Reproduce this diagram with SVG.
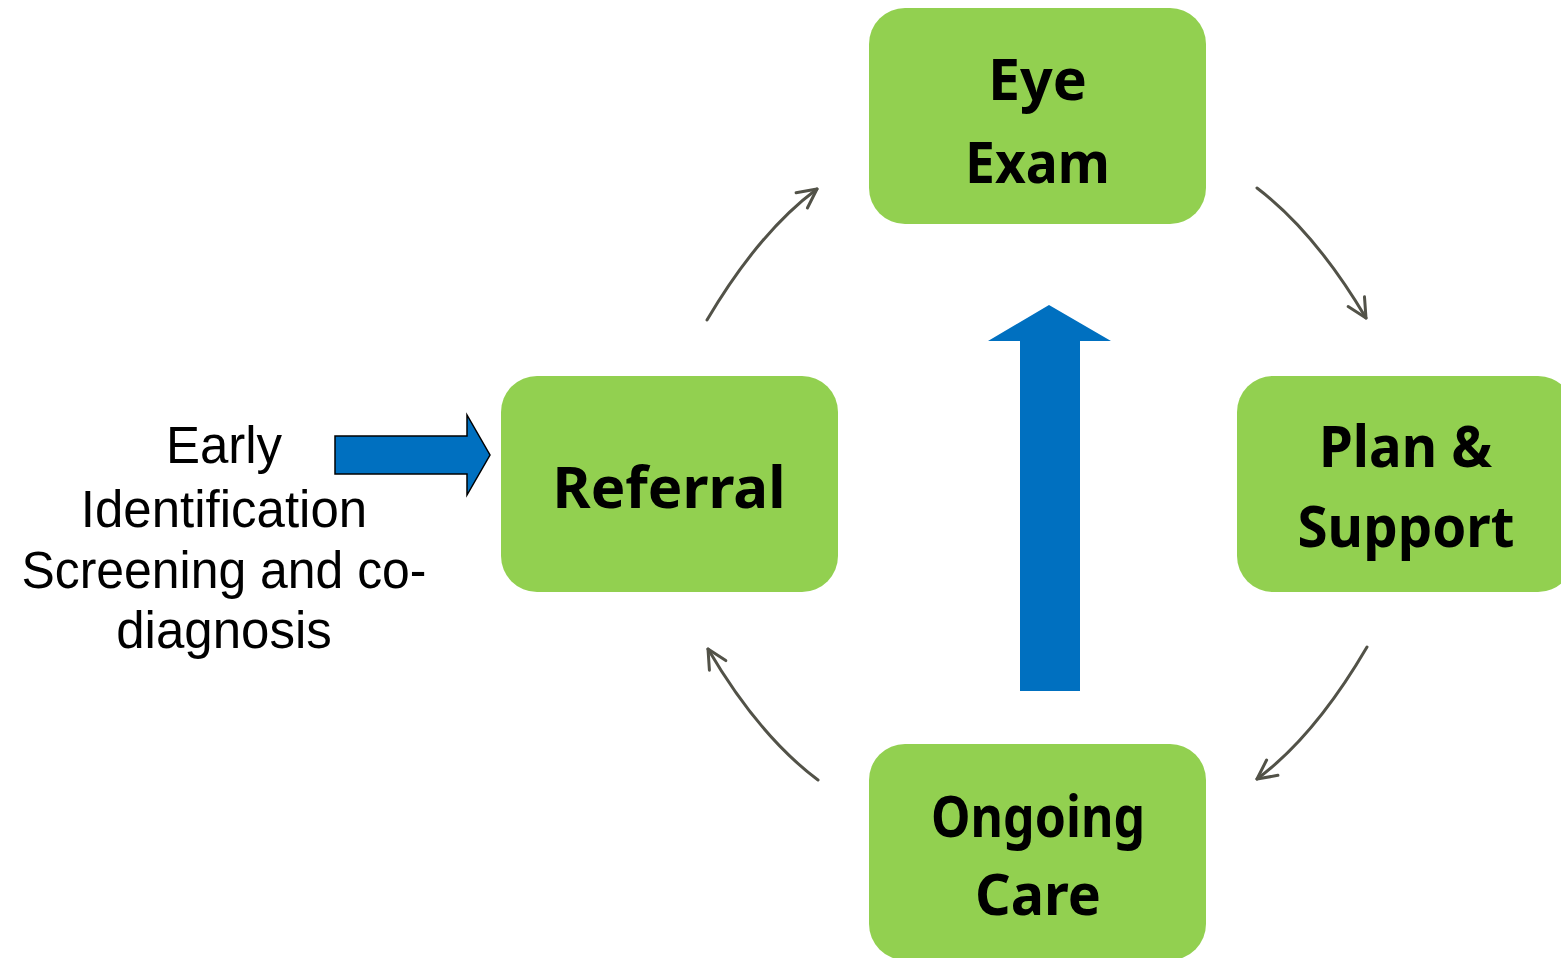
<svg xmlns="http://www.w3.org/2000/svg" width="1561" height="958" viewBox="0 0 1561 958">
  <style>
    .box { fill: #92D050; }
    .lbl { font-family: "Noto Sans", "DejaVu Sans", sans-serif; font-weight: bold; font-size: 57px; fill: #000; text-anchor: middle; }
    .side { font-family: "Liberation Sans", Arial, sans-serif; font-size: 51px; fill: #000; text-anchor: middle; }
    .conn { fill: none; stroke: #525248; stroke-width: 3; stroke-linecap: round; marker-end: url(#chev); }
    .blue { fill: #0070C0; }
  </style>
  <defs>
    <marker id="chev" viewBox="-25 -15 30 30" refX="0" refY="0" markerWidth="30" markerHeight="30" markerUnits="userSpaceOnUse" orient="auto">
      <path d="M-19,-9.5 L0,0 L-19,9.5" fill="none" stroke="#525248" stroke-width="3" stroke-linecap="round" stroke-linejoin="round"/>
    </marker>
  </defs>
  <rect width="1561" height="958" fill="#ffffff"/>

  <g id="connectors">
    <path class="conn" d="M707,320 Q759,232 817,189"/>
    <path class="conn" d="M1257,188 Q1315,232 1366,318"/>
    <path class="conn" d="M1367,647 Q1315,736 1257,779"/>
    <path class="conn" d="M818,780 Q759,736 708,649"/>
    <path id="early-arrow" class="blue" stroke="#000" stroke-width="1.5" stroke-linejoin="miter" d="M335,436 L467,436 L467,415 L490,455 L467,495 L467,474 L335,474 Z"/>
    <path id="up-arrow" class="blue" d="M1020,691 L1020,341 L988,341 L1049,305 L1111,341 L1080,341 L1080,691 Z"/>
  </g>

  <g id="node-eye-exam">
    <rect class="box" x="869" y="8" width="337" height="216" rx="36" ry="36"/>
    <text class="lbl" x="1037.5" y="100" textLength="99" lengthAdjust="spacingAndGlyphs">Eye</text>
    <text class="lbl" x="1037.5" y="183" textLength="145" lengthAdjust="spacingAndGlyphs">Exam</text>
  </g>

  <g id="node-referral">
    <rect class="box" x="501" y="376" width="337" height="216" rx="36" ry="36"/>
    <text class="lbl" x="669" y="508" textLength="233" lengthAdjust="spacingAndGlyphs">Referral</text>
  </g>

  <g id="node-plan-support">
    <rect class="box" x="1237" y="376" width="337" height="216" rx="36" ry="36"/>
    <text class="lbl" x="1405.5" y="467" textLength="173" lengthAdjust="spacingAndGlyphs">Plan &amp;</text>
    <text class="lbl" x="1406" y="547" textLength="217" lengthAdjust="spacingAndGlyphs">Support</text>
  </g>

  <g id="node-ongoing-care">
    <rect class="box" x="869" y="744" width="337" height="216" rx="36" ry="36"/>
    <text class="lbl" x="1038" y="837" textLength="214" lengthAdjust="spacingAndGlyphs">Ongoing</text>
    <text class="lbl" x="1038" y="915" textLength="126" lengthAdjust="spacingAndGlyphs">Care</text>
  </g>

  <g id="early-identification-text">
    <text class="side" x="224" y="463">Early</text>
    <text class="side" x="224" y="527">Identification</text>
    <text class="side" x="224" y="588" textLength="405" lengthAdjust="spacingAndGlyphs">Screening and co-</text>
    <text class="side" x="224" y="648">diagnosis</text>
  </g>
</svg>
